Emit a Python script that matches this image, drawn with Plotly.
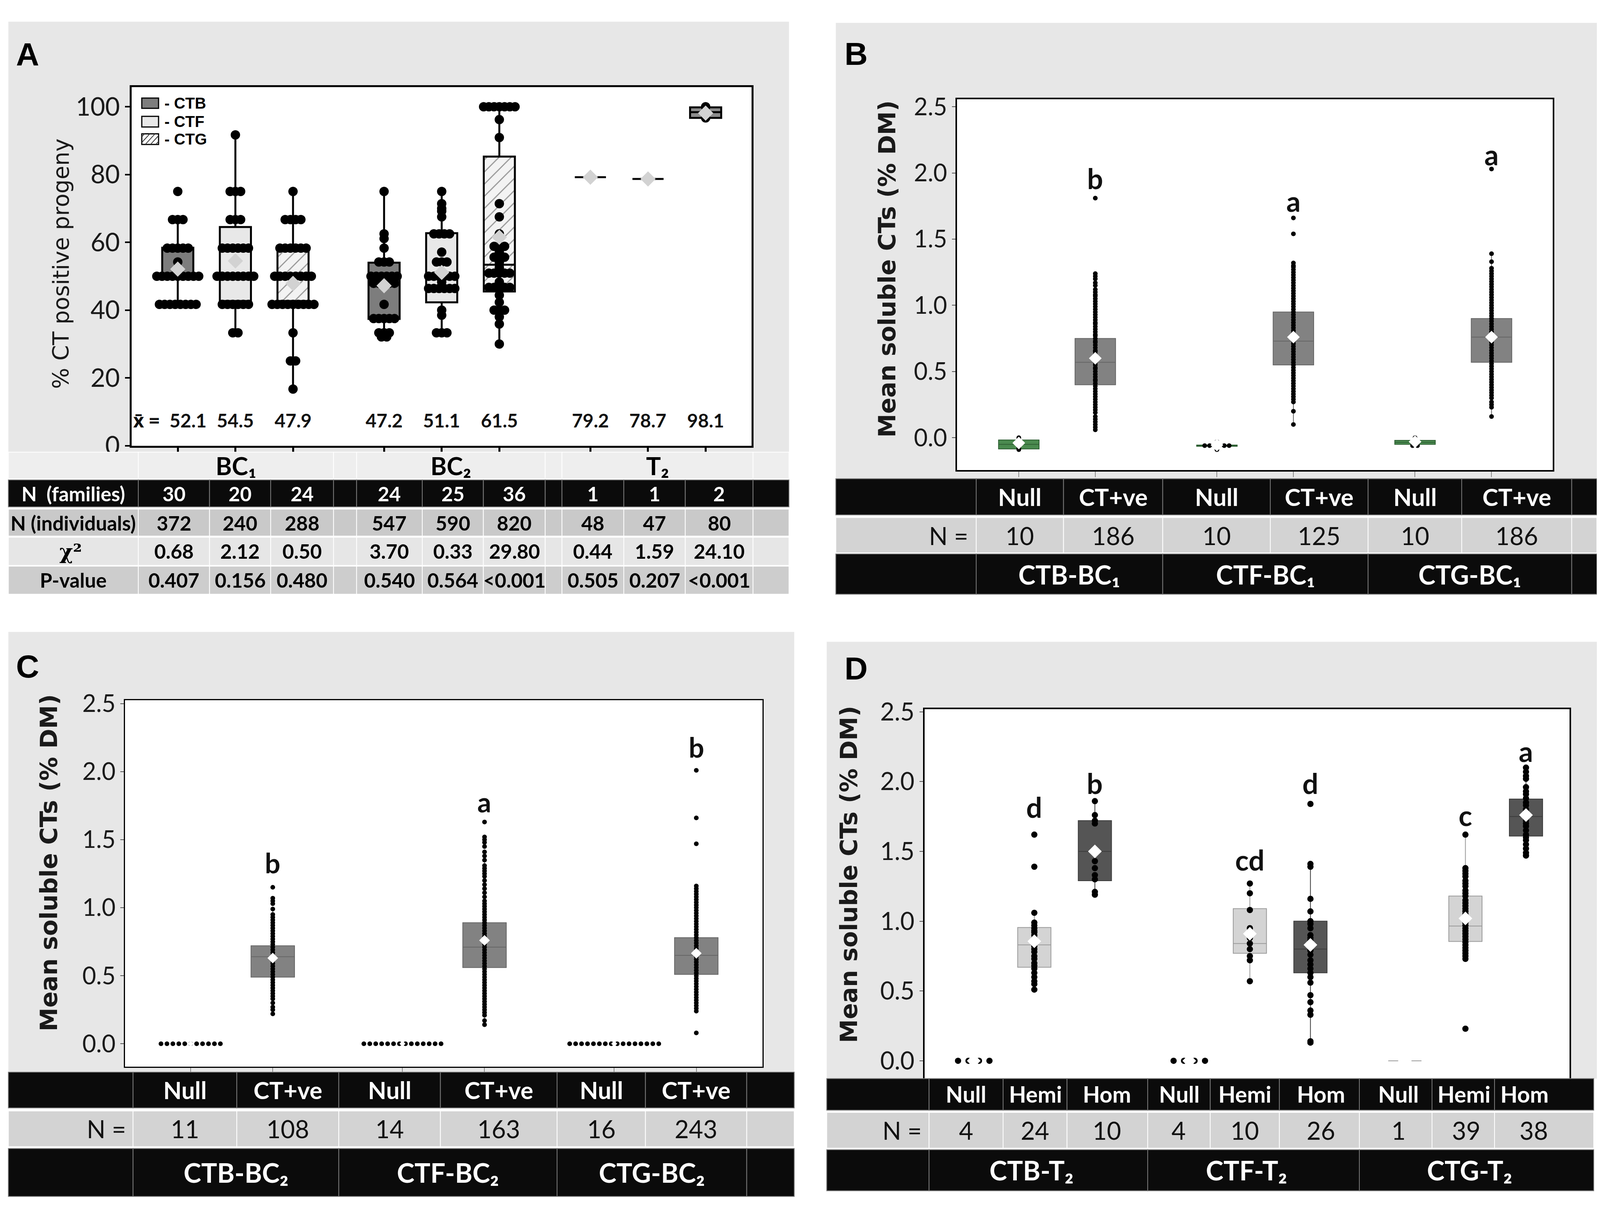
import plotly.graph_objects as go
from collections import Counter

# reference geometry (pixels of the reference picture) mapped onto the figure
RW, RH = 4563, 3107
FW, FH = 4080, 3091          # figure size that fits the browser viewport
FS = 0.95                    # font / marker scale

# ====================== DATA ======================
# ---- Panel A : % CT positive progeny (per family) ----
a_generations = ["BC\u2081", "BC\u2082", "T\u2082"]
a_lines = ["CTB", "CTF", "CTG"]
a_ctb_bc1 = [75] + [66.7]*3 + [58.3]*5 + [54.2] + [50]*9 + [41.7]*8
a_ctf_bc1 = [91.7] + [75]*3 + [66.7]*3 + [58.3]*6 + [50]*8 + [41.7]*6 + [33.3]*2
a_ctg_bc1 = [75] + [66.7]*4 + [58.3]*6 + [50]*8 + [41.7]*9 + [33.3] + [25]*2 + [16.7]
a_ctb_bc2 = [75, 62.5, 61.1, 58.3] + [54.2]*3 + [50]*6 + [47.9]*5 + [41.7] + [37.5]*5 + [33.3]*3 + [32.1]*2
a_ctf_bc2 = [75, 71.4, 70.0, 69.2, 67.5] + [62.5]*4 + [57.1] + [54.2]*3 + [50]*6 + [48.3] + [46.4]*6 + [40.0, 38.5] + [33.3]*3
a_ctg_bc2 = ([100]*7 + [96.2, 90.9, 71.4, 67.5, 62.5] + [58.8]*3 + [57.1] + [55.6]*3 + [54.1, 52.6]
             + [50.9]*5 + [48.3] + [46.7]*5 + [44.4, 42.3] + [40.0]*3 + [38.0, 35.9, 30.0])
a_ctb_t2 = []
a_ctf_t2 = []
a_ctg_t2 = [100, 96.7]
a_q1 = [50, 42.7, 42.7, 37.4, 42.3, 45.5, 79.2, 78.7, 96.7]
a_median = [50, 50, 50, 47.9, 50, 53.4, 79.2, 78.7, 98.4]
a_q3 = [58.4, 64.5, 58.4, 54.0, 62.7, 85.3, 79.2, 78.7, 99.8]
a_lower = [41.7, 33.3, 16.7, 31.9, 33.3, 29.7, 79.2, 78.7, 96.7]
a_upper = [66.7, 91.7, 75, 75, 75, 100, 79.2, 78.7, 99.8]
a_mean = [52.1, 54.5, 47.9, 47.2, 51.1, 61.5, 79.2, 78.7, 98.1]
a_n_families = [30, 20, 24, 24, 25, 36, 1, 1, 2]
a_n_individuals = [372, 240, 288, 547, 590, 820, 48, 47, 80]
a_chi2 = ["0.68", "2.12", "0.50", "3.70", "0.33", "29.80", "0.44", "1.59", "24.10"]
a_pvalue = ["0.407", "0.156", "0.480", "0.540", "0.564", "<0.001", "0.505", "0.207", "<0.001"]

# ---- Panel B : BC1 mean soluble CTs ----
b_categories = ["Null", "CT+ve"]
b_groups = ["CTB-BC\u2081", "CTF-BC\u2081", "CTG-BC\u2081"]
b_n = [10, 186, 10, 125, 10, 186]
b_ctb_null = [0.00, -0.01, -0.02, -0.03, -0.04, -0.05, -0.06, -0.07, -0.08, -0.09]
b_ctb_ct = [1.81, 1.24, 1.22, 1.20, 1.17, 1.15, 1.12, 1.10, 1.08, 1.07, 1.05, 1.03, 1.01, 0.99, 0.97,
            0.95, 0.93, 0.91, 0.89, 0.87, 0.86, 0.84, 0.82, 0.80, 0.78, 0.77, 0.75, 0.73, 0.72, 0.70,
            0.68, 0.66, 0.65, 0.63, 0.61, 0.60, 0.58, 0.57, 0.55, 0.53, 0.52, 0.50, 0.48, 0.46, 0.44,
            0.43, 0.41, 0.39, 0.37, 0.35, 0.33, 0.31, 0.29, 0.27, 0.25, 0.23, 0.21, 0.19, 0.16, 0.14,
            0.12, 0.10, 0.08, 0.06]
b_ctf_null = [-0.03, -0.05, -0.06, -0.06, -0.06, -0.06, -0.06, -0.06, -0.07, -0.09]
b_ctf_ct = [1.66, 1.54, 1.32, 1.30, 1.29, 1.27, 1.25, 1.23, 1.21, 1.19, 1.17, 1.15, 1.13, 1.11, 1.09,
            1.07, 1.05, 1.03, 1.01, 0.99, 0.97, 0.95, 0.93, 0.91, 0.89, 0.87, 0.85, 0.83, 0.81, 0.79,
            0.77, 0.75, 0.73, 0.71, 0.69, 0.67, 0.65, 0.63, 0.61, 0.59, 0.57, 0.55, 0.53, 0.51, 0.49,
            0.47, 0.45, 0.43, 0.41, 0.39, 0.37, 0.35, 0.33, 0.31, 0.29, 0.27, 0.20, 0.10]
b_ctg_null = [0.00, -0.01, -0.02, -0.03, -0.03, -0.04, -0.04, -0.05, -0.06, -0.06]
b_ctg_ct = [2.03, 1.39, 1.33, 1.28, 1.26, 1.24, 1.22, 1.20, 1.18, 1.16, 1.14, 1.12, 1.10, 1.08, 1.06,
            1.04, 1.02, 1.00, 0.98, 0.96, 0.94, 0.92, 0.90, 0.88, 0.86, 0.84, 0.82, 0.80, 0.78, 0.76,
            0.74, 0.72, 0.70, 0.68, 0.66, 0.64, 0.62, 0.60, 0.58, 0.56, 0.54, 0.52, 0.50, 0.48, 0.46,
            0.44, 0.42, 0.40, 0.38, 0.36, 0.34, 0.32, 0.30, 0.27, 0.25, 0.23, 0.16]
b_q1 = [-0.085, 0.40, -0.065, 0.55, -0.05, 0.57]
b_median = [-0.05, 0.57, -0.06, 0.73, -0.035, 0.76]
b_q3 = [-0.017, 0.75, -0.055, 0.95, -0.02, 0.90]
b_lower = [-0.09, 0.06, -0.09, 0.10, -0.06, 0.16]
b_upper = [0.0, 1.245, -0.03, 1.32, 0.0, 1.39]
b_mean = [-0.04, 0.60, -0.055, 0.76, -0.03, 0.76]
b_letters = ["", "b", "", "a", "", "a"]
b_letter_y = [0, 1.96, 0, 1.79, 0, 2.14]

# ---- Panel C : BC2 mean soluble CTs ----
c_groups = ["CTB-BC\u2082", "CTF-BC\u2082", "CTG-BC\u2082"]
c_n = [11, 108, 14, 163, 16, 243]
c_ctb_null = [0.0]*11
c_ctb_ct = [1.15, 1.07, 1.05, 1.03, 0.99, 0.95, 0.93, 0.91, 0.89, 0.87, 0.85, 0.83, 0.81, 0.79, 0.77,
            0.75, 0.73, 0.71, 0.69, 0.67, 0.65, 0.63, 0.61, 0.59, 0.57, 0.55, 0.53, 0.51, 0.49, 0.47,
            0.45, 0.43, 0.41, 0.39, 0.37, 0.35, 0.33, 0.30, 0.27, 0.25, 0.22]
c_ctf_null = [0.0]*14
c_ctf_ct = [1.63, 1.52, 1.50, 1.48, 1.45, 1.41, 1.38, 1.35, 1.31, 1.29, 1.27, 1.25, 1.23, 1.20, 1.17,
            1.14, 1.11, 1.08, 1.05, 1.03, 1.01, 0.99, 0.97, 0.95, 0.93, 0.91, 0.89, 0.87, 0.85, 0.83,
            0.81, 0.79, 0.77, 0.75, 0.73, 0.71, 0.69, 0.67, 0.65, 0.63, 0.61, 0.59, 0.57, 0.55, 0.53,
            0.51, 0.49, 0.47, 0.45, 0.43, 0.41, 0.39, 0.37, 0.35, 0.33, 0.31, 0.29, 0.27, 0.25, 0.23,
            0.21, 0.17, 0.14]
c_ctg_null = [0.0]*16
c_ctg_ct = [2.01, 1.66, 1.47, 1.16, 1.14, 1.12, 1.10, 1.08, 1.06, 1.04, 1.02, 1.00, 0.98, 0.96, 0.94,
            0.92, 0.90, 0.88, 0.86, 0.84, 0.82, 0.80, 0.78, 0.76, 0.74, 0.72, 0.70, 0.68, 0.66, 0.64,
            0.62, 0.60, 0.58, 0.56, 0.54, 0.52, 0.50, 0.48, 0.46, 0.44, 0.42, 0.40, 0.38, 0.36, 0.34,
            0.32, 0.30, 0.28, 0.26, 0.24, 0.08]
c_q1 = [0, 0.49, 0, 0.56, 0, 0.51]
c_median = [0, 0.64, 0, 0.71, 0, 0.65]
c_q3 = [0, 0.72, 0, 0.89, 0, 0.78]
c_lower = [0, 0.22, 0, 0.14, 0, 0.24]
c_upper = [0, 1.00, 0, 1.38, 0, 1.16]
c_mean = [0, 0.63, 0, 0.76, 0, 0.665]
c_letters = ["", "b", "", "a", "", "b"]
c_letter_y = [0, 1.33, 0, 1.78, 0, 2.18]

# ---- Panel D : T2 mean soluble CTs ----
d_categories = ["Null", "Hemi", "Hom"]
d_groups = ["CTB-T\u2082", "CTF-T\u2082", "CTG-T\u2082"]
d_n = [4, 24, 10, 4, 10, 26, 1, 39, 38]
d_ctb_null = [0.0]*4
d_ctb_hemi = [1.62, 1.39, 1.06, 0.99, 0.97, 0.95, 0.93, 0.92, 0.90, 0.88, 0.86, 0.82, 0.80, 0.78,
              0.75, 0.73, 0.70, 0.68, 0.66, 0.63, 0.60, 0.57, 0.55, 0.51]
d_ctb_hom = [1.86, 1.76, 1.72, 1.70, 1.43, 1.38, 1.33, 1.30, 1.21, 1.19]
d_ctf_null = [0.0]*4
d_ctf_hemi = [1.27, 1.20, 1.08, 0.95, 0.88, 0.84, 0.80, 0.75, 0.72, 0.57]
d_ctf_hom = [1.84, 1.41, 1.39, 1.16, 1.07, 1.00, 0.98, 0.95, 0.90, 0.88, 0.86, 0.82, 0.79, 0.76,
             0.72, 0.69, 0.66, 0.63, 0.60, 0.56, 0.47, 0.42, 0.36, 0.33, 0.14, 0.13]
d_ctg_null = [0.0]
d_ctg_hemi = [1.62, 1.38, 1.36, 1.34, 1.32, 1.29, 1.27, 1.25, 1.22, 1.20, 1.18, 1.15, 1.13, 1.11,
              1.09, 1.07, 1.05, 1.03, 1.01, 0.99, 0.97, 0.95, 0.93, 0.91, 0.89, 0.87, 0.85, 0.83,
              0.81, 0.79, 0.77, 0.75, 0.73, 0.23]
d_ctg_hom = [2.10, 2.07, 2.04, 2.02, 1.96, 1.93, 1.91, 1.88, 1.85, 1.83, 1.80, 1.78, 1.75, 1.72,
             1.70, 1.68, 1.65, 1.62, 1.60, 1.58, 1.55, 1.52, 1.49, 1.47]
d_q1 = [0, 0.67, 1.29, 0, 0.77, 0.63, 0, 0.855, 1.61]
d_median = [0, 0.83, 1.50, 0, 0.84, 0.80, 0, 0.965, 1.75]
d_q3 = [0, 0.955, 1.72, 0, 1.09, 1.00, 0, 1.18, 1.875]
d_lower = [0, 0.51, 1.19, 0, 0.57, 0.135, 0, 0.73, 1.46]
d_upper = [0, 1.06, 1.86, 0, 1.27, 1.41, 0, 1.62, 2.095]
d_mean = [0, 0.856, 1.50, 0, 0.91, 0.83, 0, 1.02, 1.76]
d_letters = ["", "d", "b", "", "cd", "d", "", "c", "a"]
d_letter_y = [0, 1.82, 1.99, 0, 1.44, 1.99, 0, 1.76, 2.22]

# ====================== HELPERS ======================
fig = go.Figure()
shapes, anns = [], []


def F(s):
    return round(s * FS)


def X(p):
    return p / RW


def Y(p):
    return 1 - p / RH


def rect(x0, y0, x1, y1, fill, line=None, lw=0, layer="below"):
    shapes.append(dict(type="rect", xref="paper", yref="paper", x0=X(x0), x1=X(x1),
                       y0=Y(y1), y1=Y(y0), fillcolor=fill,
                       line=dict(color=line or fill, width=lw), layer=layer))


def seg(x0, y0, x1, y1, color, lw, layer="above"):
    shapes.append(dict(type="line", xref="paper", yref="paper", x0=X(x0), x1=X(x1),
                       y0=Y(y0), y1=Y(y1), line=dict(color=color, width=lw), layer=layer))


def text(x, y, s, size, color="#111111", family="Lato", xanchor="center", angle=0):
    anns.append(dict(xref="paper", yref="paper", x=X(x), y=Y(y), text=s, showarrow=False,
                     font=dict(size=F(size), color=color, family=family), xanchor=xanchor,
                     yanchor="middle", textangle=angle))


def swarm(vals, step):
    cnt = Counter(vals)
    seen = {}
    out = []
    for v in vals:
        k = cnt[v]
        i = seen.get(v, 0)
        seen[v] = i + 1
        out.append((i - (k - 1) / 2) * step)
    return out


def add_box(ax, pos, q1, med, q3, lo, hi, width, fill, lcolor, lw):
    fig.add_trace(go.Box(x=[pos], q1=[q1], median=[med], q3=[q3], lowerfence=[lo],
                         upperfence=[hi], width=width, fillcolor=fill, orientation="v",
                         line=dict(color=lcolor, width=lw), whiskerwidth=0, boxpoints=False,
                         xaxis="x" + ax, yaxis="y" + ax, showlegend=False, hoverinfo="skip"))


def add_points(ax, pos, vals, step, size):
    if not vals:
        return
    offs = swarm(vals, step)
    fig.add_trace(go.Scatter(x=[pos + o for o in offs], y=vals, mode="markers",
                             marker=dict(size=F(size), color="black", line=dict(width=0)),
                             xaxis="x" + ax, yaxis="y" + ax, showlegend=False, hoverinfo="skip"))


def add_means(ax, xs, ys, size, color):
    fig.add_trace(go.Scatter(x=xs, y=ys, mode="markers",
                             marker=dict(symbol="diamond", size=F(size), color=color, line=dict(width=0)),
                             xaxis="x" + ax, yaxis="y" + ax, showlegend=False, hoverinfo="skip"))


def letter(ax, pos, y, s, size):
    anns.append(dict(xref="x" + ax, yref="y" + ax, x=pos, y=y, text="<b>%s</b>" % s,
                     showarrow=False, font=dict(size=F(size), color="#111111", family="Lato")))


def table_row(y0, y1, bounds, fill, sep):
    for i in range(len(bounds) - 1):
        rect(bounds[i], y0, bounds[i + 1], y1, fill, sep, 2, layer="above")


PANEL_BG = "#e7e7e7"
BLACK = "#0b0b0b"
SUBFONT = "Lato, DejaVu Sans"

# ====================== PANEL BACKGROUNDS ======================
plot_px = {
    "": (368, 187, 2143, 1131),
    "2": (2731, 219, 4437, 1195),
    "3": (349, 1801, 2174, 2766),
    "4": (2638, 1824, 4485, 2800),
}
rect(15, 15, 2250, 1148, PANEL_BG)
rect(2384, 18, 4563, 1218, PANEL_BG)
rect(15, 1621, 2265, 2780, PANEL_BG)
rect(2358, 1647, 4563, 2797, PANEL_BG)
for k, (x0, y0, x1, y1) in plot_px.items():
    rect(x0, y0, x1, y1, "white")

text(70, 100, "<b>A</b>", 86, "black", "Liberation Sans")
text(2442, 99, "<b>B</b>", 86, "black", "Liberation Sans")
text(70, 1712, "<b>C</b>", 86, "black", "Liberation Sans")
text(2442, 1717, "<b>D</b>", 86, "black", "Liberation Sans")

text(166, 652, "% CT positive progeny", 60, "#1a1a1a", "DejaVu Sans", angle=-90)
for (tx, ty) in [(2530, 666), (130, 2229), (2421, 2259)]:
    text(tx, ty, "<b>Mean soluble CTs (% DM)</b>", 64, "#1a1a1a", "DejaVu Sans", angle=-90)

# ====================== PANEL A ======================
a_points = [a_ctb_bc1, a_ctf_bc1, a_ctg_bc1, a_ctb_bc2, a_ctf_bc2, a_ctg_bc2, a_ctb_t2, a_ctf_t2, a_ctg_t2]
a_pos = [gi * 3.58 + ci for gi in range(3) for ci in range(3)]
A_W = 0.54
hatch_x, hatch_b, hatch_h = [], [], []
for i, p in enumerate(a_pos):
    if a_lines[i % 3] == "CTG" and a_q3[i] - a_q1[i] > 5:
        hatch_x.append(p)
        hatch_b.append(a_q1[i])
        hatch_h.append(a_q3[i] - a_q1[i])
fig.add_trace(go.Bar(x=hatch_x, y=hatch_h, base=hatch_b, width=A_W, xaxis="x", yaxis="y",
                     marker=dict(color="#f3f3f3", line=dict(width=0),
                                 pattern=dict(shape="/", fgcolor="#3a3a3a", bgcolor="#f3f3f3",
                                              size=22, solidity=0.13)),
                     showlegend=False, hoverinfo="skip"))
for i, p in enumerate(a_pos):
    line = a_lines[i % 3]
    if line == "CTB":
        fill = "#7d7d7d"
    elif line == "CTF":
        fill = "#e8e8e8"
    else:
        fill = "rgba(0,0,0,0)" if a_q3[i] - a_q1[i] > 5 else "#8c8c8c"
    add_box("", p, a_q1[i], a_median[i], a_q3[i], a_lower[i], a_upper[i], A_W, fill, "black", 5)
for i, p in enumerate(a_pos):
    add_points("", p, a_points[i], 15 / 165, 25)
add_means("", a_pos, a_mean, 32, "#d2d2d2")
for i, p in enumerate(a_pos):
    anns.append(dict(xref="x", yref="y", x=p, y=7.5, text="<b>%.1f</b>" % a_mean[i], showarrow=False,
                     font=dict(size=F(50), color="#111111", family="Lato"),
                     xshift=26 if i == 0 else 0))
text(410, 1064, "<b>x\u0304 =</b>", 50, "#111111", "Noto Sans")

# legend of panel A
leg_rows = [(216, 243, "#7d7d7d"), (264, 292, "#e8e8e8"), (310, 338, "white")]
for (y0, y1, col), name in zip(leg_rows, a_lines):
    rect(397, y0, 445, y1, col, "black", 3, layer="above")
    text(460, (y0 + y1) / 2, "<b>- %s</b>" % name, 42, "black", "Liberation Sans", xanchor="left")
y0, y1 = 310, 338
for k in [-20, -5, 10, 25, 40]:
    xa, ya, xb, yb = 397 + k, y1, 397 + k + (y1 - y0), y0
    if xa < 397:
        ya -= (397 - xa)
        xa = 397
    if xb > 445:
        yb += (xb - 445)
        xb = 445
    if xb > xa:
        seg(xa, ya, xb, yb, "#333333", 2)

# table A
colsA = [15, 387, 591, 766, 946, 1012, 1200, 1375, 1552, 1600, 1777, 1953, 2147, 2250]
val_idx = [1, 2, 3, 5, 6, 7, 9, 10, 11]
centersA = [(colsA[j] + colsA[j + 1]) / 2 for j in val_idx]
table_row(1148, 1218, [15, 387, 946, 1012, 1552, 1600, 2147, 2250], "#eeeeee", "white")
table_row(1221, 1292, colsA, BLACK, "#7a7a7a")
table_row(1298, 1369, colsA, "#c9c9c9", "white")
table_row(1372, 1446, colsA, "#e6e6e6", "white")
table_row(1448, 1522, colsA, "#cdcdcd", "white")
for g, (c0, c1) in zip(a_generations, [(387, 946), (1012, 1552), (1600, 2147)]):
    text((c0 + c1) / 2, 1183, "<b>%s</b>" % g, 66, "black", SUBFONT)
text(201, 1257, "<b>N  (families)</b>", 54, "white")
text(201, 1334, "<b>N (individuals)</b>", 54, "black")
text(193, 1409, "<b>\u03c7\u00b2</b>", 56, "black", "DejaVu Serif")
text(201, 1485, "<b>P-value</b>", 54, "black")
for j, cx in enumerate(centersA):
    text(cx, 1257, "<b>%d</b>" % a_n_families[j], 54, "white")
    text(cx, 1334, "<b>%d</b>" % a_n_individuals[j], 54, "black")
    text(cx, 1409, "<b>%s</b>" % a_chi2[j], 54, "black")
    text(cx, 1485, "<b>%s</b>" % a_pvalue[j].replace("<", "&lt;"), 54, "black")

# ====================== PANEL B ======================
b_points = [b_ctb_null, b_ctb_ct, b_ctf_null, b_ctf_ct, b_ctg_null, b_ctg_ct]
b_pos = [gi * 2.59 + ci for gi in range(3) for ci in range(2)]
for i, p in enumerate(b_pos):
    if i % 2 == 0:
        add_box("2", p, b_q1[i], b_median[i], b_q3[i], b_lower[i], b_upper[i], 0.53, "#4a8a4f", "#2e5f33", 2)
    else:
        add_box("2", p, b_q1[i], b_median[i], b_q3[i], b_lower[i], b_upper[i], 0.53, "#828282", "#666666", 2)
for i, p in enumerate(b_pos):
    add_points("2", p, b_points[i], 14 / 219, 13)
add_means("2", b_pos, b_mean, 26, "white")
for i, p in enumerate(b_pos):
    if b_letters[i]:
        letter("2", p, b_letter_y[i], b_letters[i], 76)

colsB = [2384, 2786, 3036, 3320, 3628, 3908, 4176, 4491, 4563]
table_row(1218, 1313, colsB, BLACK, "#777777")
table_row(1320, 1413, colsB, "#d3d3d3", "white")
table_row(1416, 1522, [2384, 2786, 3320, 3908, 4491, 4563], BLACK, "#777777")
for j in range(6):
    cx = (colsB[j + 1] + colsB[j + 2]) / 2
    text(cx, 1266, "<b>%s</b>" % b_categories[j % 2], 64, "white")
    text(cx, 1367, "%d" % b_n[j], 66, "#111111")
text(2766, 1367, "N =", 66, "#111111", xanchor="right")
for g, (c0, c1) in zip(b_groups, [(2786, 3320), (3320, 3908), (3908, 4491)]):
    text((c0 + c1) / 2, 1470, "<b>%s</b>" % g, 70, "white", SUBFONT)

# ====================== PANEL C ======================
c_points = [c_ctb_null, c_ctb_ct, c_ctf_null, c_ctf_ct, c_ctg_null, c_ctg_ct]
c_pos = [gi * 2.58 + ci for gi in range(3) for ci in range(2)]
for i, p in enumerate(c_pos):
    if c_q3[i] > c_q1[i]:
        add_box("3", p, c_q1[i], c_median[i], c_q3[i], c_lower[i], c_upper[i], 0.53, "#828282", "#666666", 2)
for i, p in enumerate(c_pos):
    step = 17 / 235 if len(set(c_points[i])) == 1 else 14 / 235
    add_points("3", p, c_points[i], step, 13)
add_means("3", [c_pos[i] for i in range(0, 6, 2)], [c_mean[i] for i in range(0, 6, 2)], 13, "white")
add_means("3", [c_pos[i] for i in range(1, 6, 2)], [c_mean[i] for i in range(1, 6, 2)], 22, "white")
for i, p in enumerate(c_pos):
    if c_letters[i]:
        letter("3", p, c_letter_y[i], c_letters[i], 74)

colsC = [15, 372, 669, 961, 1252, 1586, 1839, 2129, 2265]
table_row(2780, 2874, colsC, BLACK, "#777777")
table_row(2882, 2976, colsC, "#d3d3d3", "white")
table_row(2981, 3107, [15, 372, 961, 1586, 2129, 2265], BLACK, "#777777")
for j in range(6):
    cx = (colsC[j + 1] + colsC[j + 2]) / 2
    text(cx, 2827, "<b>%s</b>" % b_categories[j % 2], 64, "white")
    text(cx, 2929, "%d" % c_n[j], 66, "#111111")
text(355, 2929, "N =", 66, "#111111", xanchor="right")
for g, (c0, c1) in zip(c_groups, [(372, 961), (961, 1586), (1586, 2129)]):
    text((c0 + c1) / 2, 3044, "<b>%s</b>" % g, 72, "white", SUBFONT)

# ====================== PANEL D ======================
d_points = [d_ctb_null, d_ctb_hemi, d_ctb_hom, d_ctf_null, d_ctf_hemi, d_ctf_hom,
            d_ctg_null, d_ctg_hemi, d_ctg_hom]
d_pos = [gi * 3.63 + ci * 1.02 for gi in range(3) for ci in range(3)]
for i, p in enumerate(d_pos):
    cat = d_categories[i % 3]
    pts = d_points[i]
    if cat == "Null":
        if len(pts) == 1:
            add_box("4", p, d_q1[i], d_median[i], d_q3[i], d_lower[i], d_upper[i], 0.56, "#b0b0b0", "#9a9a9a", 2)
    elif cat == "Hemi":
        add_box("4", p, d_q1[i], d_median[i], d_q3[i], d_lower[i], d_upper[i], 0.56, "#d4d4d4", "#9a9a9a", 2)
    else:
        add_box("4", p, d_q1[i], d_median[i], d_q3[i], d_lower[i], d_upper[i], 0.56, "#555555", "#3c3c3c", 2)
for i, p in enumerate(d_pos):
    step = 30 / 170 if len(set(d_points[i])) == 1 else 14 / 170
    add_points("4", p, d_points[i], step, 17)
add_means("4", d_pos, d_mean, 28, "white")
for i, p in enumerate(d_pos):
    if d_letters[i]:
        letter("4", p, d_letter_y[i], d_letters[i], 76)

colsD = [2358, 2651, 2863, 3046, 3277, 3456, 3654, 3883, 4091, 4270, 4554]
d_head_x = [2757, 2956, 3160, 3367, 3555, 3773, 3995, 4183, 4356]
d_n_x = [2757, 2954, 3160, 3366, 3555, 3773, 3995, 4189, 4382]
table_row(2797, 2880, colsD, BLACK, "#777777")
table_row(2886, 2980, colsD, "#d3d3d3", "white")
table_row(2984, 3092, [2358, 2651, 3277, 3883, 4554], BLACK, "#777777")
for j in range(9):
    text(d_head_x[j], 2838, "<b>%s</b>" % d_categories[j % 3], 60, "white")
    text(d_n_x[j], 2933, "%d" % d_n[j], 66, "#111111")
text(2633, 2933, "N =", 66, "#111111", xanchor="right")
for g, (c0, c1) in zip(d_groups, [(2651, 3277), (3277, 3883), (3883, 4554)]):
    text((c0 + c1) / 2 - 20, 3038, "<b>%s</b>" % g, 72, "white", SUBFONT)

# ====================== AXES ======================
def dom(k):
    x0, y0, x1, y1 = plot_px[k]
    return [X(x0), X(x1)], [Y(y1), Y(y0)]


tickfont = dict(family="Lato", color="#1a1a1a")
axes = {}
xd, yd = dom("")
axes["xaxis"] = dict(domain=xd, anchor="y", range=[-0.8, 9.958], tickvals=a_pos, showticklabels=False,
                     ticks="outside", ticklen=14, tickwidth=5, tickcolor="black", showline=True,
                     linecolor="black", linewidth=5, mirror=True, showgrid=False, zeroline=False)
axes["yaxis"] = dict(domain=yd, anchor="x", range=[0, 105.8], tickvals=[0, 20, 40, 60, 80, 100],
                     ticks="outside", ticklen=12, tickwidth=4, tickcolor="black",
                     tickfont=dict(size=F(68), **tickfont), showline=True, linecolor="black",
                     linewidth=5, mirror=True, showgrid=False, zeroline=False)
yt = [0, 0.5, 1.0, 1.5, 2.0, 2.5]
ytt = ["%.1f" % v for v in yt]
for k, xr, yr, pos, lw, tl, fs in [("2", [-0.808, 6.982], [-0.244, 2.557], b_pos, 4, 14, 64),
                                   ("3", [-0.8, 6.966], [-0.17, 2.525], c_pos, 3, 12, 64),
                                   ("4", [-0.829, 10.035], [-0.136, 2.52], d_pos, 4, 0, 66)]:
    xd, yd = dom(k)
    axes["xaxis" + k] = dict(domain=xd, anchor="y" + k, range=xr, tickvals=pos, showticklabels=False,
                             ticks="outside" if tl else "", ticklen=tl, tickwidth=2, tickcolor="#8a8a8a",
                             showline=True, linecolor="black", linewidth=lw, mirror=True,
                             showgrid=False, zeroline=False)
    axes["yaxis" + k] = dict(domain=yd, anchor="x" + k, range=yr, tickvals=yt, ticktext=ytt,
                             ticks="outside", ticklen=9, tickwidth=2, tickcolor="#555555",
                             tickfont=dict(size=F(fs), **tickfont), showline=True, linecolor="black",
                             linewidth=lw, mirror=True, showgrid=False, zeroline=False)

fig.update_layout(width=FW, height=FH, margin=dict(l=0, r=0, t=0, b=0, pad=0),
                  paper_bgcolor="white", plot_bgcolor="rgba(0,0,0,0)", boxmode="overlay",
                  barmode="overlay", showlegend=False, shapes=shapes, annotations=anns, **axes)

fig.write_html("out.html")
